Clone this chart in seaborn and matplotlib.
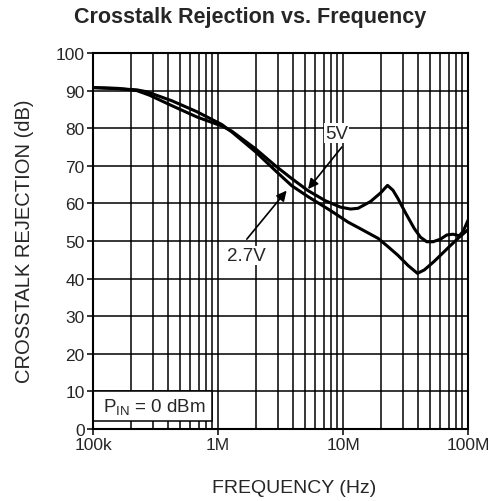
import numpy as np
import pandas as pd
import matplotlib
matplotlib.use("Agg")
import matplotlib.pyplot as plt
from matplotlib.patches import Rectangle
from matplotlib.ticker import FixedLocator, NullFormatter
import seaborn as sns

# values (frequency in Hz, rejection in dB)
freq_5v = [1.0e5, 1.58e5, 2.24e5, 2.82e5, 4.27e5, 6.76e5, 1.07e6, 1.29e6, 2.0e6,
           2.88e6, 3.89e6, 5.25e6, 7.24e6, 9.55e6, 1.15e7, 1.32e7, 1.66e7, 2.0e7,
           2.27e7, 2.51e7, 2.75e7, 3.16e7, 3.72e7, 4.17e7, 4.68e7, 5.25e7, 6.03e7,
           6.76e7, 7.59e7, 8.51e7, 9.12e7, 1.0e8]
rej_5v = [90.8, 90.6, 90.0, 88.8, 86.0, 83.0, 80.6, 79.2, 74.5,
          70.0, 66.6, 63.4, 60.7, 59.0, 58.5, 58.7, 60.5, 62.8,
          64.8, 63.5, 61.3, 57.5, 53.3, 51.0, 49.8, 49.8, 50.5,
          51.6, 51.8, 51.4, 52.5, 55.5]

freq_27v = [1.0e5, 1.58e5, 2.24e5, 2.69e5, 4.27e5, 6.76e5, 1.07e6, 1.29e6, 2.0e6,
            2.88e6, 3.89e6, 5.25e6, 7.94e6, 1.10e7, 1.32e7, 1.91e7, 2.29e7, 2.75e7,
            3.31e7, 3.94e7, 4.47e7, 5.37e7, 7.24e7, 8.51e7, 1.0e8]
rej_27v = [90.8, 90.5, 90.2, 89.7, 87.3, 84.4, 81.0, 79.0, 73.7,
           68.7, 64.7, 61.8, 58.1, 55.0, 53.6, 50.7, 48.5, 46.2,
           43.5, 41.4, 42.3, 44.6, 48.8, 51.0, 53.0]

x_ticks = [1e5, 1e6, 1e7, 1e8]
x_tick_labels = ["100k", "1M", "10M", "100M"]
y_ticks = list(range(0, 101, 10))

df = pd.concat([
    pd.DataFrame({"freq": freq_5v, "rej": rej_5v, "supply": "5V"}),
    pd.DataFrame({"freq": freq_27v, "rej": rej_27v, "supply": "2.7V"}),
])

sns.set_style("white")
plt.rcParams["font.family"] = ["Liberation Sans", "DejaVu Sans"]
plt.rcParams["mathtext.fontset"] = "custom"
plt.rcParams["mathtext.rm"] = "Liberation Sans"

fig = plt.figure(figsize=(4.95, 5.02), dpi=100)
ax = fig.add_axes([93 / 495, 72 / 502, 375 / 495, 376 / 502])

sns.lineplot(data=df, x="freq", y="rej", hue="supply", palette=["black", "black"],
             linewidth=2.2, legend=False, ax=ax, zorder=3, sort=False, estimator=None)

ax.set_xscale("log")
ax.set_xlim(1e5, 1e8)
ax.set_ylim(0, 100)

minor = [m * 10 ** d for d in range(5, 8) for m in range(2, 10)]
ax.xaxis.set_major_locator(FixedLocator(x_ticks))
ax.xaxis.set_minor_locator(FixedLocator(minor))
ax.xaxis.set_minor_formatter(NullFormatter())
ax.set_xticks(x_ticks)
ax.set_xticklabels(x_tick_labels)
ax.set_yticks(y_ticks)

ax.set_axisbelow(True)
ax.grid(which="both", axis="x", color="black", linewidth=1.1)
ax.grid(which="major", axis="y", color="black", linewidth=1.1)
ax.tick_params(which="major", axis="both", length=4, width=1.1, color="black",
               labelsize=12.5, pad=2, bottom=True, left=True)
ax.tick_params(which="minor", length=0)
for s in ax.spines.values():
    s.set_color("black")
    s.set_linewidth(1.5)

ax.set_xlabel("")
ax.set_ylabel("")
fig.text(294 / 495, 1 - 489 / 502, "FREQUENCY (Hz)", fontsize=14,
         ha="center", va="center")
fig.text(25 / 495, 1 - 241 / 502, "CROSSTALK REJECTION (dB)", fontsize=14.5,
         ha="center", va="center", rotation=90)
fig.text(250 / 495, 1 - 18 / 502, "Crosstalk Rejection vs. Frequency",
         ha="center", va="center", fontsize=15.5, fontweight="bold")

# input level box
ax.add_patch(Rectangle((1e5, 2.2), 9e5 - 1e5, 7.8, facecolor="white",
                       edgecolor="black", linewidth=1.1, zorder=2))
ax.text(1.2e5, 5.9, r"P$_{\mathrm{IN}}$ = 0 dBm", fontsize=13.5, va="center",
        ha="left", zorder=4)

arrow = dict(arrowstyle="-|>", color="black", lw=1.2, mutation_scale=15,
             shrinkA=0, shrinkB=0)
ax.annotate("", xy=(5.25e6, 63.8), xytext=(9.8e6, 75.0), arrowprops=arrow, zorder=4)
ax.text(8.9e6, 78.7, "5V", fontsize=13.5, ha="center", va="center", zorder=4,
        bbox=dict(facecolor="white", edgecolor="none", pad=1))
ax.annotate("", xy=(3.54e6, 63.4), xytext=(1.70e6, 50.5), arrowprops=arrow, zorder=4)
ax.text(1.70e6, 46.1, "2.7V", fontsize=13.5, ha="center", va="center", zorder=4,
        bbox=dict(facecolor="white", edgecolor="none", pad=1))

fig.savefig("out.png", dpi=100)
